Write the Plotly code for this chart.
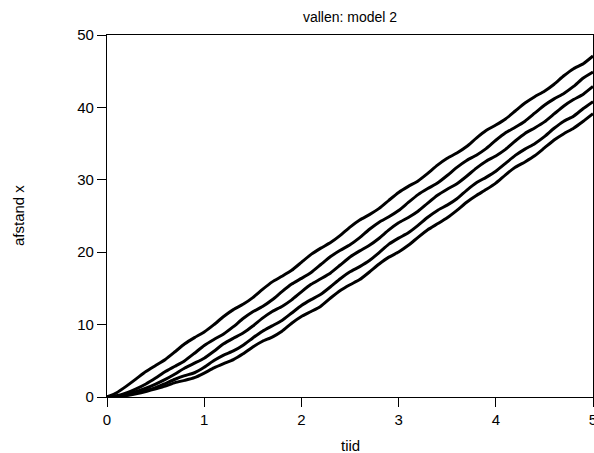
import plotly.graph_objects as go

tijd = [0.0, 0.1, 0.2, 0.3, 0.4, 0.5, 0.6, 0.7, 0.8, 0.9,
        1.0, 1.1, 1.2, 1.3, 1.4, 1.5, 1.6, 1.7, 1.8, 1.9,
        2.0, 2.1, 2.2, 2.3, 2.4, 2.5, 2.6, 2.7, 2.8, 2.9,
        3.0, 3.1, 3.2, 3.3, 3.4, 3.5, 3.6, 3.7, 3.8, 3.9,
        4.0, 4.1, 4.2, 4.3, 4.4, 4.5, 4.6, 4.7, 4.8, 4.9, 5.0]

x_a = [0, 0.59, 1.50, 2.50, 3.52, 4.35, 5.18, 6.25, 7.35, 8.20,
       8.98, 9.99, 11.12, 12.07, 12.80, 13.73, 14.86, 15.90, 16.68, 17.50,
       18.60, 19.70, 20.56, 21.33, 22.32, 23.47, 24.45, 25.19, 26.05, 27.17,
       28.25, 29.09, 29.85, 30.89, 32.02, 32.97, 33.70, 34.60, 35.76, 36.80,
       37.56, 38.40, 39.50, 40.60, 41.48, 42.23, 43.20, 44.37, 45.35, 46.03, 47.10]

x_b = [0, 0.16, 0.55, 1.12, 1.80, 2.62, 3.51, 4.25, 5.02, 6.05,
       7.12, 7.95, 8.71, 9.71, 10.84, 11.78, 12.50, 13.43, 14.56, 15.60,
       16.38, 17.20, 18.30, 19.40, 20.26, 21.03, 22.02, 23.17, 24.15, 24.89,
       25.75, 26.87, 27.95, 28.79, 29.55, 30.59, 31.72, 32.67, 33.40, 34.30,
       35.46, 36.50, 37.26, 38.10, 39.20, 40.30, 41.18, 41.93, 42.90, 44.07, 44.90]

x_c = [0, 0.09, 0.34, 0.73, 1.21, 1.79, 2.43, 3.18, 4.00, 4.67,
       5.36, 6.32, 7.34, 8.11, 8.84, 9.80, 10.89, 11.81, 12.51, 13.42,
       14.53, 15.56, 16.33, 17.14, 18.23, 19.33, 20.18, 20.95, 21.93, 23.08,
       24.06, 24.80, 25.66, 26.78, 27.86, 28.70, 29.45, 30.49, 31.62, 32.57,
       33.30, 34.20, 35.36, 36.40, 37.16, 38.00, 39.10, 40.20, 41.08, 41.83, 42.90]

x_d = [0, 0.06, 0.25, 0.56, 0.90, 1.30, 1.86, 2.45, 2.95, 3.35,
       4.11, 5.03, 5.79, 6.36, 7.15, 8.16, 9.09, 9.83, 10.57, 11.60,
       12.64, 13.45, 14.18, 15.23, 16.34, 17.29, 18.01, 18.85, 19.95, 21.11,
       21.94, 22.68, 23.71, 24.83, 25.77, 26.50, 27.39, 28.55, 29.58, 30.34,
       31.18, 32.27, 33.37, 34.24, 34.99, 35.96, 37.12, 38.10, 38.78, 39.85, 40.80]

x_e = [0, 0.05, 0.20, 0.43, 0.74, 1.12, 1.51, 1.98, 2.30, 2.67,
       3.31, 4.02, 4.61, 5.16, 5.96, 6.91, 7.70, 8.28, 9.08, 10.19,
       11.12, 11.81, 12.55, 13.67, 14.71, 15.51, 16.22, 17.27, 18.37, 19.32,
       20.02, 20.95, 22.05, 23.10, 23.92, 24.76, 25.78, 26.90, 27.83, 28.65,
       29.54, 30.69, 31.72, 32.47, 33.31, 34.40, 35.50, 36.37, 37.12, 38.08, 39.13]

x_ticks = [0, 1, 2, 3, 4, 5]
y_ticks = [0, 10, 20, 30, 40, 50]

fig = go.Figure()
for series in [x_a, x_b, x_c, x_d, x_e]:
    fig.add_trace(go.Scatter(x=tijd, y=series, mode="lines",
                             line=dict(color="black", width=3, shape="spline", smoothing=0.5),
                             showlegend=False, hoverinfo="skip"))

font = "Liberation Sans, Arial, sans-serif"
axis_common = dict(showline=True, linecolor="black", linewidth=1.3, mirror=True,
                   ticks="outside", ticklen=9, tickwidth=1.3, tickcolor="black",
                   showgrid=False, zeroline=False, ticklabeloverflow="allow",
                   automargin=False,
                   tickfont=dict(family=font, size=15, color="black"))

fig.update_layout(
    width=594, height=453,
    margin=dict(l=107, r=1, t=35, b=56),
    paper_bgcolor="white", plot_bgcolor="white",
    title=dict(text="vallen: model 2", x=0.5, xref="paper", xanchor="center",
               y=1 - 17 / 453, yref="container", yanchor="middle",
               font=dict(family=font, size=14, color="black")),
    xaxis=dict(range=[0, 5], tickvals=x_ticks, **axis_common),
    yaxis=dict(range=[0, 50], tickvals=y_ticks, **axis_common),
    annotations=[
        dict(text="tiid", xref="paper", yref="paper", x=0.5, y=(397 - 445) / 362,
             xanchor="center", yanchor="middle", showarrow=False,
             font=dict(family=font, size=15, color="black")),
        dict(text="afstand x", xref="paper", yref="paper", x=(18 - 107) / 486, y=0.5,
             xanchor="center", yanchor="middle", showarrow=False, textangle=-90,
             font=dict(family=font, size=15, color="black")),
    ],
)

fig.write_html("out.html")
